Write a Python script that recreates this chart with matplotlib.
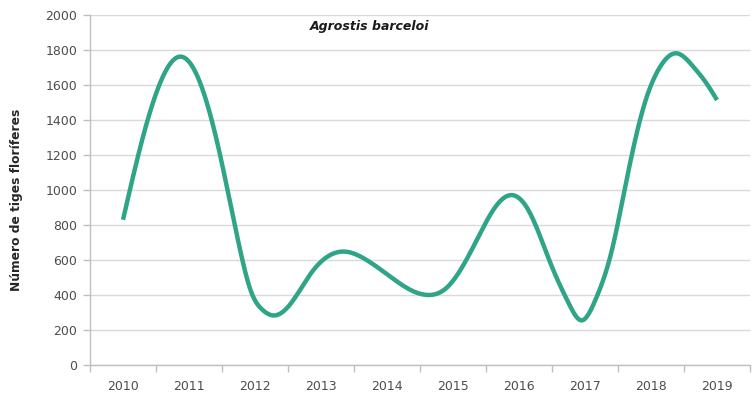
import numpy as np
import matplotlib
matplotlib.use("Agg")
import matplotlib.pyplot as plt
from matplotlib.ticker import FixedLocator, NullFormatter

# ---- data ----
years = ["2010", "2011", "2012", "2013", "2014", "2015", "2016", "2017", "2018", "2019"]
# positions along the year axis (0 = 2010 ... 9 = 2019) and values
curve_pos = [0.00, 0.30, 0.55, 0.86, 1.15, 1.45, 1.75, 1.95, 2.10, 2.28, 2.55, 2.85,
             3.36, 3.69, 4.05, 4.35, 4.63, 4.90, 5.36, 5.61, 5.89, 6.15, 6.50, 6.75,
             6.95, 7.15, 7.40, 7.63, 7.90, 8.14, 8.39, 8.64, 8.84, 9.00]
curve_val = [830, 1300, 1600, 1762, 1630, 1235, 700, 410, 320, 283, 355, 525,
             648, 600, 505, 430, 400, 440, 714, 886, 971, 880, 560, 355,
             255, 365, 645, 1057, 1490, 1705, 1781, 1705, 1610, 1514]
title = "Agrostis barceloi"
ylabel = "Número de tiges floríferes"


def natural_spline(x, y, xs):
    x = np.asarray(x, float); y = np.asarray(y, float)
    n = len(x); h = np.diff(x)
    A = np.zeros((n, n)); b = np.zeros(n)
    A[0, 0] = A[-1, -1] = 1.0
    for i in range(1, n - 1):
        A[i, i - 1] = h[i - 1]; A[i, i] = 2 * (h[i - 1] + h[i]); A[i, i + 1] = h[i]
        b[i] = 6 * ((y[i + 1] - y[i]) / h[i] - (y[i] - y[i - 1]) / h[i - 1])
    M = np.linalg.solve(A, b)
    idx = np.clip(np.searchsorted(x, xs) - 1, 0, n - 2)
    x0, x1 = x[idx], x[idx + 1]; hh = h[idx]
    return (M[idx] * (x1 - xs) ** 3 / (6 * hh) + M[idx + 1] * (xs - x0) ** 3 / (6 * hh)
            + (y[idx] / hh - M[idx] * hh / 6) * (x1 - xs)
            + (y[idx + 1] / hh - M[idx + 1] * hh / 6) * (xs - x0))


plt.rcParams['font.family'] = ['DejaVu Sans']

fig = plt.figure(figsize=(7.55, 3.98), dpi=100)
ax = fig.add_axes([90 / 755, 1 - 365 / 398, 660 / 755, 350 / 398])

xs = np.linspace(curve_pos[0], curve_pos[-1], 1000)
ax.plot(xs, natural_spline(curve_pos, curve_val, xs), color="#2fa486", lw=3.2,
        solid_capstyle="butt", zorder=3)

ax.set_xlim(-0.5, len(years) - 0.5)
ax.set_ylim(0, 2000)
ax.set_yticks(np.arange(0, 2001, 200))
ax.yaxis.grid(True, color="#d9d9d9", lw=1.0)
ax.set_axisbelow(True)

ax.set_xticks(range(len(years)))
ax.set_xticklabels(years)
ax.xaxis.set_minor_locator(FixedLocator(np.arange(-0.5, len(years), 1.0)))
ax.xaxis.set_minor_formatter(NullFormatter())
ax.tick_params(axis="x", which="major", length=0, pad=11, labelsize=9, labelcolor="#4d4d4d")
ax.tick_params(axis="x", which="minor", length=5, width=1, color="#bfbfbf", direction="out")
ax.tick_params(axis="y", length=5, width=1, color="#bfbfbf", labelsize=9,
               labelcolor="#4d4d4d", pad=4)

for s in ("top", "right"):
    ax.spines[s].set_visible(False)
for s in ("left", "bottom"):
    ax.spines[s].set_color("#bfbfbf")
    ax.spines[s].set_linewidth(1.0)

ax.set_ylabel(ylabel, fontsize=8.8, fontweight="bold", color="#262626")
ax.yaxis.set_label_coords(-0.1015, 0.471)
ax.text(0.424, 0.985, title, transform=ax.transAxes, ha="center", va="top",
        fontsize=9, fontweight="bold", fontstyle="italic", color="#1a1a1a")

fig.savefig("out.png", dpi=100)
